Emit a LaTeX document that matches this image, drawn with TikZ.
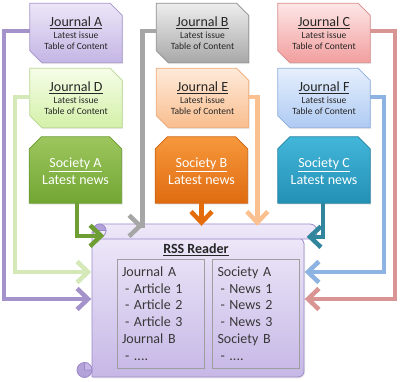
\documentclass[tikz,border=0pt]{standalone}
\usepackage{fontspec}
\setmainfont{Carlito}
\usetikzlibrary{arrows.meta,calc,shadows}
\pgfdeclarelayer{background}
\pgfsetlayers{background,main}
\definecolor{txt}{HTML}{262626}
% journal colours (top, bottom, border)
\definecolor{aT}{HTML}{ECE6F8}\definecolor{aB}{HTML}{C4B5E4}\definecolor{aL}{HTML}{A594CC}
\definecolor{bT}{HTML}{EDEDED}\definecolor{bB}{HTML}{A8A8A8}\definecolor{bL}{HTML}{8C8C8C}
\definecolor{cT}{HTML}{FDE6E6}\definecolor{cB}{HTML}{F29E9E}\definecolor{cL}{HTML}{D98A8A}
\definecolor{dT}{HTML}{F6FDE8}\definecolor{dB}{HTML}{D3F0A8}\definecolor{dL}{HTML}{B8D690}
\definecolor{eT}{HTML}{FEEADA}\definecolor{eB}{HTML}{F9BE8E}\definecolor{eL}{HTML}{EEA672}
\definecolor{fT}{HTML}{E6EFFD}\definecolor{fB}{HTML}{AECAF3}\definecolor{fL}{HTML}{8CADDD}
% society colours
\definecolor{gT}{HTML}{9DC65E}\definecolor{gB}{HTML}{72A633}\definecolor{gL}{HTML}{6A9A30}
\definecolor{oT}{HTML}{F7983C}\definecolor{oB}{HTML}{DF6B10}\definecolor{oL}{HTML}{CF6210}
\definecolor{tT}{HTML}{42B6DA}\definecolor{tB}{HTML}{2390B4}\definecolor{tL}{HTML}{1F80A0}
% scroll
\definecolor{sT}{HTML}{EEE9F9}\definecolor{sB}{HTML}{C6B7E6}\definecolor{sL}{HTML}{9C8AC8}
\definecolor{sD}{HTML}{B3A1DA}
% connectors
\definecolor{kA}{HTML}{A493CB}\definecolor{kD}{HTML}{D5E8B8}\definecolor{kSA}{HTML}{6F9E34}
\definecolor{kB}{HTML}{A6A6A6}\definecolor{kSB}{HTML}{E46C0A}\definecolor{kE}{HTML}{FAC090}
\definecolor{kSC}{HTML}{31859C}\definecolor{kF}{HTML}{8DB3E2}\definecolor{kC}{HTML}{D99594}
\newcommand\jshape[2]{%
  \begin{pgfonlayer}{background}
  \path[#2,drop shadow={shadow xshift=1pt,shadow yshift=-1.5pt,opacity=.18}]
    (#1.north west) -- ([xshift=-12pt]#1.north east) -- ([yshift=-12pt]#1.north east)
    -- (#1.south east) -- ([xshift=12pt]#1.south west) -- ([yshift=12pt]#1.south west) -- cycle;
  \end{pgfonlayer}}
\newcommand\sshape[2]{%
  \begin{pgfonlayer}{background}
  \path[#2,drop shadow={shadow xshift=1pt,shadow yshift=-1.5pt,opacity=.18}]
    (#1.south west) -- ([yshift=-12pt]#1.north west) -- ([xshift=12pt]#1.north west)
    -- ([xshift=-12pt]#1.north east) -- ([yshift=-12pt]#1.north east) -- (#1.south east) -- cycle;
  \end{pgfonlayer}}
\newcommand\subf{\fontsize{9.5}{11}\selectfont}
\newcommand\soctext[1]{\raisebox{-6pt}[0pt][0pt]{\begin{tabular}{@{}c@{}}\underline{#1}\\Latest news\end{tabular}}}
\begin{document}
\begin{tikzpicture}[x=1pt,y=-1pt,
  jnode/.style={minimum width=92pt,minimum height=59pt,inner sep=0pt,align=center,
    text=txt,font=\fontsize{14}{15}\selectfont},
  snode/.style={minimum width=92pt,minimum height=66pt,inner sep=0pt,
    text=white,font=\fontsize{14}{17}\selectfont},
  boxfill/.style n args={3}{top color=#1,bottom color=#2,draw=#3,line width=0.8pt},
  conn/.style={line width=4.5pt,-{Straight Barb[length=11pt,width=21pt]}},
  inner/.style={draw=black!38,line width=0.8pt,minimum width=87pt,minimum height=109pt,
    inner xsep=5pt,inner ysep=0pt,text width=77pt,align=left,text=black!78,
    font=\fontsize{14}{16.7}\selectfont},
  ]
\useasboundingbox (0,0) rectangle (400,382);

% ---------- journals ----------
\node[jnode] (jA) at (76,33) {\underline{Journal A}\\[-3.5pt]{\subf Latest issue}\\[-4pt]{\subf Table of Content}};
\node[jnode] (jB) at (202.5,33) {\underline{Journal B}\\[-3.5pt]{\subf Latest issue}\\[-4pt]{\subf Table of Content}};
\node[jnode] (jC) at (324,33) {\underline{Journal C}\\[-3.5pt]{\subf Latest issue}\\[-4pt]{\subf Table of Content}};
\node[jnode] (jD) at (76,98) {\underline{Journal D}\\[-3.5pt]{\subf Latest issue}\\[-4pt]{\subf Table of Content}};
\node[jnode] (jE) at (202.5,98) {\underline{Journal E}\\[-3.5pt]{\subf Latest issue}\\[-4pt]{\subf Table of Content}};
\node[jnode] (jF) at (324,98) {\underline{Journal F}\\[-3.5pt]{\subf Latest issue}\\[-4pt]{\subf Table of Content}};
\jshape{jA}{boxfill={aT}{aB}{aL}}
\jshape{jB}{boxfill={bT}{bB}{bL}}
\jshape{jC}{boxfill={cT}{cB}{cL}}
\jshape{jD}{boxfill={dT}{dB}{dL}}
\jshape{jE}{boxfill={eT}{eB}{eL}}
\jshape{jF}{boxfill={fT}{fB}{fL}}

% ---------- societies ----------
\node[snode] (sA) at (75.5,170) {\soctext{Society A}};
\node[snode] (sB) at (201.5,170) {\soctext{Society B}};
\node[snode] (sC) at (324,170) {\soctext{Society C}};
\sshape{sA}{boxfill={gT}{gB}{gL}}
\sshape{sB}{boxfill={oT}{oB}{oL}}
\sshape{sC}{boxfill={tT}{tB}{tL}}

% ---------- RSS reader scroll ----------
\node[minimum width=213pt,minimum height=146pt,inner sep=0pt] (rss) at (198,304) {};
\begin{pgfonlayer}{background}
  \path[top color=sT,bottom color=sB,draw=sL,line width=0.8pt,
        drop shadow={shadow xshift=1pt,shadow yshift=-1.5pt,opacity=.18}]
    (92,232) -- (92,377) [rounded corners=6pt] -- (304,377) -- (304,238) [sharp corners] -- cycle;
  \path[top color=sT,bottom color=sT!85!sB,draw=sL,line width=0.8pt,rounded corners=7pt]
    (93,224) rectangle (317,239);
  \path[fill=sD,draw=sL,line width=0.8pt] (99.5,230.5) circle (6.5pt);
  \path[fill=sT,draw=sL,line width=0.6pt] (99.5,230.5) -- (106,230.5) arc (0:-180:6.5pt) -- cycle;
  \path[fill=sD,draw=sL,line width=0.8pt] (84.5,370) circle (7.5pt);
  \path[fill=sB,draw=sL,line width=0.6pt] (84.5,370) -- (92,370) arc (0:90:7.5pt) -- cycle;
\end{pgfonlayer}
\node[font=\bfseries\fontsize{14}{16}\selectfont,text=black!85] (rsst) at (196,250) {\underline{RSS Reader}};
\node[inner] (lbox) at (160.5,313.5) {Journal A\\\hspace{3pt}- Article 1\\\hspace{3pt}- Article 2\\\hspace{3pt}- Article 3\\Journal B\\\hspace{3pt}- ....};
\node[inner] (rbox) at (256,313.5) {Society A\\\hspace{3pt}- News 1\\\hspace{3pt}- News 2\\\hspace{3pt}- News 3\\Society B\\\hspace{3pt}- ....};

% ---------- connectors ----------
\draw[conn,kA] ([yshift=2pt]jA.west) -- ++(-26,0) |- ($(rss.west)+(0,-5)$);
\draw[conn,kD] ([yshift=1pt]jD.west) -- ++(-15,0) |- ($(rss.west)+(0,-32)$);
\draw[conn,kSA] ([xshift=1.5pt]sA.south) |- ($(rss.north west)+(13,5)$);
\draw[conn,kB] ([yshift=2pt]jB.west) -- ++(-14,0) |- ($(rss.north west)+(52,-5)$);
\draw[conn,kSB] (sB.south) -- ($(sB.south |- rss.north)+(0,-5)$);
\draw[conn,kE] ([yshift=1pt]jE.east) -| ($(rss.north west)+(166,-5)$);
\draw[conn,kSC] ([xshift=-1pt]sC.south) |- ($(rss.north east)+(2,6)$);
\draw[conn,kF] ([yshift=1pt]jF.east) -- ++(14,0) |- ($(rss.east)+(0,-32)$);
\draw[conn,kC] ([yshift=2pt]jC.east) -- ++(25,0) |- ($(rss.east)+(0,-5)$);
\end{tikzpicture}
\end{document}
